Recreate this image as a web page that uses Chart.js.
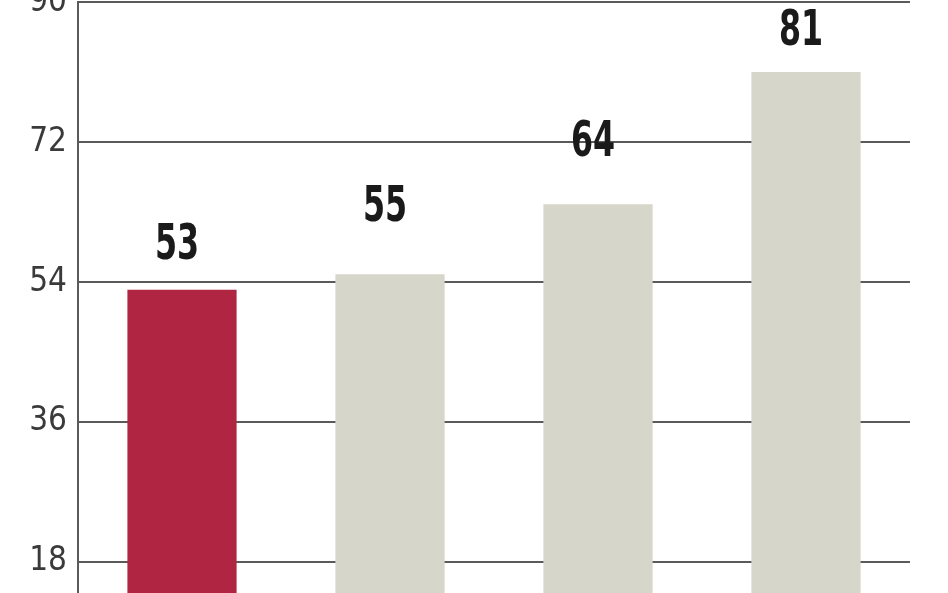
<!DOCTYPE html>
<html>
<head>
<meta charset="utf-8">
<script src="https://cdn.jsdelivr.net/npm/chart.js@4/dist/chart.umd.min.js"></script>
<style>
  html, body { margin: 0; padding: 0; background: #fff; }
  #wrap { width: 948px; height: 593px; position: relative; }
</style>
</head>
<body>
<div id="wrap"><canvas id="chart"></canvas></div>
<script>
const categories = ['A', 'B', 'C', 'D'];
const values = [53, 55, 64, 81];
const barColors = ['#b02542', '#d6d6ca', '#d6d6ca', '#d6d6ca'];
const tickValues = [18, 36, 54, 72, 90];
// gap between bar top and label baseline, px
const labelGaps = [31, 53, 48, 27];

const narrow = '"Liberation Sans Narrow", "DejaVu Sans Condensed", "DejaVu Sans", sans-serif';

const valueLabels = {
  id: 'valueLabels',
  afterDatasetsDraw(chart) {
    const { ctx } = chart;
    const meta = chart.getDatasetMeta(0);
    const squeeze = 0.72;
    meta.data.forEach((bar, i) => {
      ctx.save();
      ctx.translate(bar.x - 5, bar.y - labelGaps[i]);
      ctx.scale(squeeze, 1);
      ctx.font = 'bold 49px ' + narrow;
      ctx.fillStyle = '#1a1a1a';
      ctx.textAlign = 'center';
      ctx.textBaseline = 'alphabetic';
      ctx.fillText(String(values[i]), 0, 0);
      ctx.restore();
    });
  },
};

const context = document.getElementById('chart');

new Chart(context, {
  type: 'bar',
  data: {
    labels: categories,
    datasets: [
      {
        data: values,
        backgroundColor: barColors,
        borderWidth: 0,
        categoryPercentage: 1,
        barPercentage: 0.525,
      },
    ],
  },
  options: {
    responsive: true,
    maintainAspectRatio: false,
    animation: false,
    layout: {
      padding: { top: 2, right: 38, bottom: 0, left: 0 },
    },
    plugins: {
      legend: { display: false },
      tooltip: { enabled: false },
    },
    scales: {
      x: {
        display: false,
      },
      y: {
        min: 14,
        max: 90,
        afterBuildTicks: (scale) => {
          scale.ticks = tickValues.map((v) => ({ value: v }));
        },
        afterFit: (scale) => {
          scale.width = 78;
          scale.paddingTop = 0;
          scale.paddingBottom = 0;
        },
        border: {
          display: true,
          color: '#5a5a5a',
          width: 2,
        },
        grid: {
          color: '#5a5a5a',
          lineWidth: 2,
          drawTicks: false,
        },
        ticks: {
          padding: 11,
          color: '#3a3a3a',
          font: { family: narrow, size: 33, weight: '300' },
        },
      },
    },
  },
  plugins: [valueLabels],
});
</script>
</body>
</html>
